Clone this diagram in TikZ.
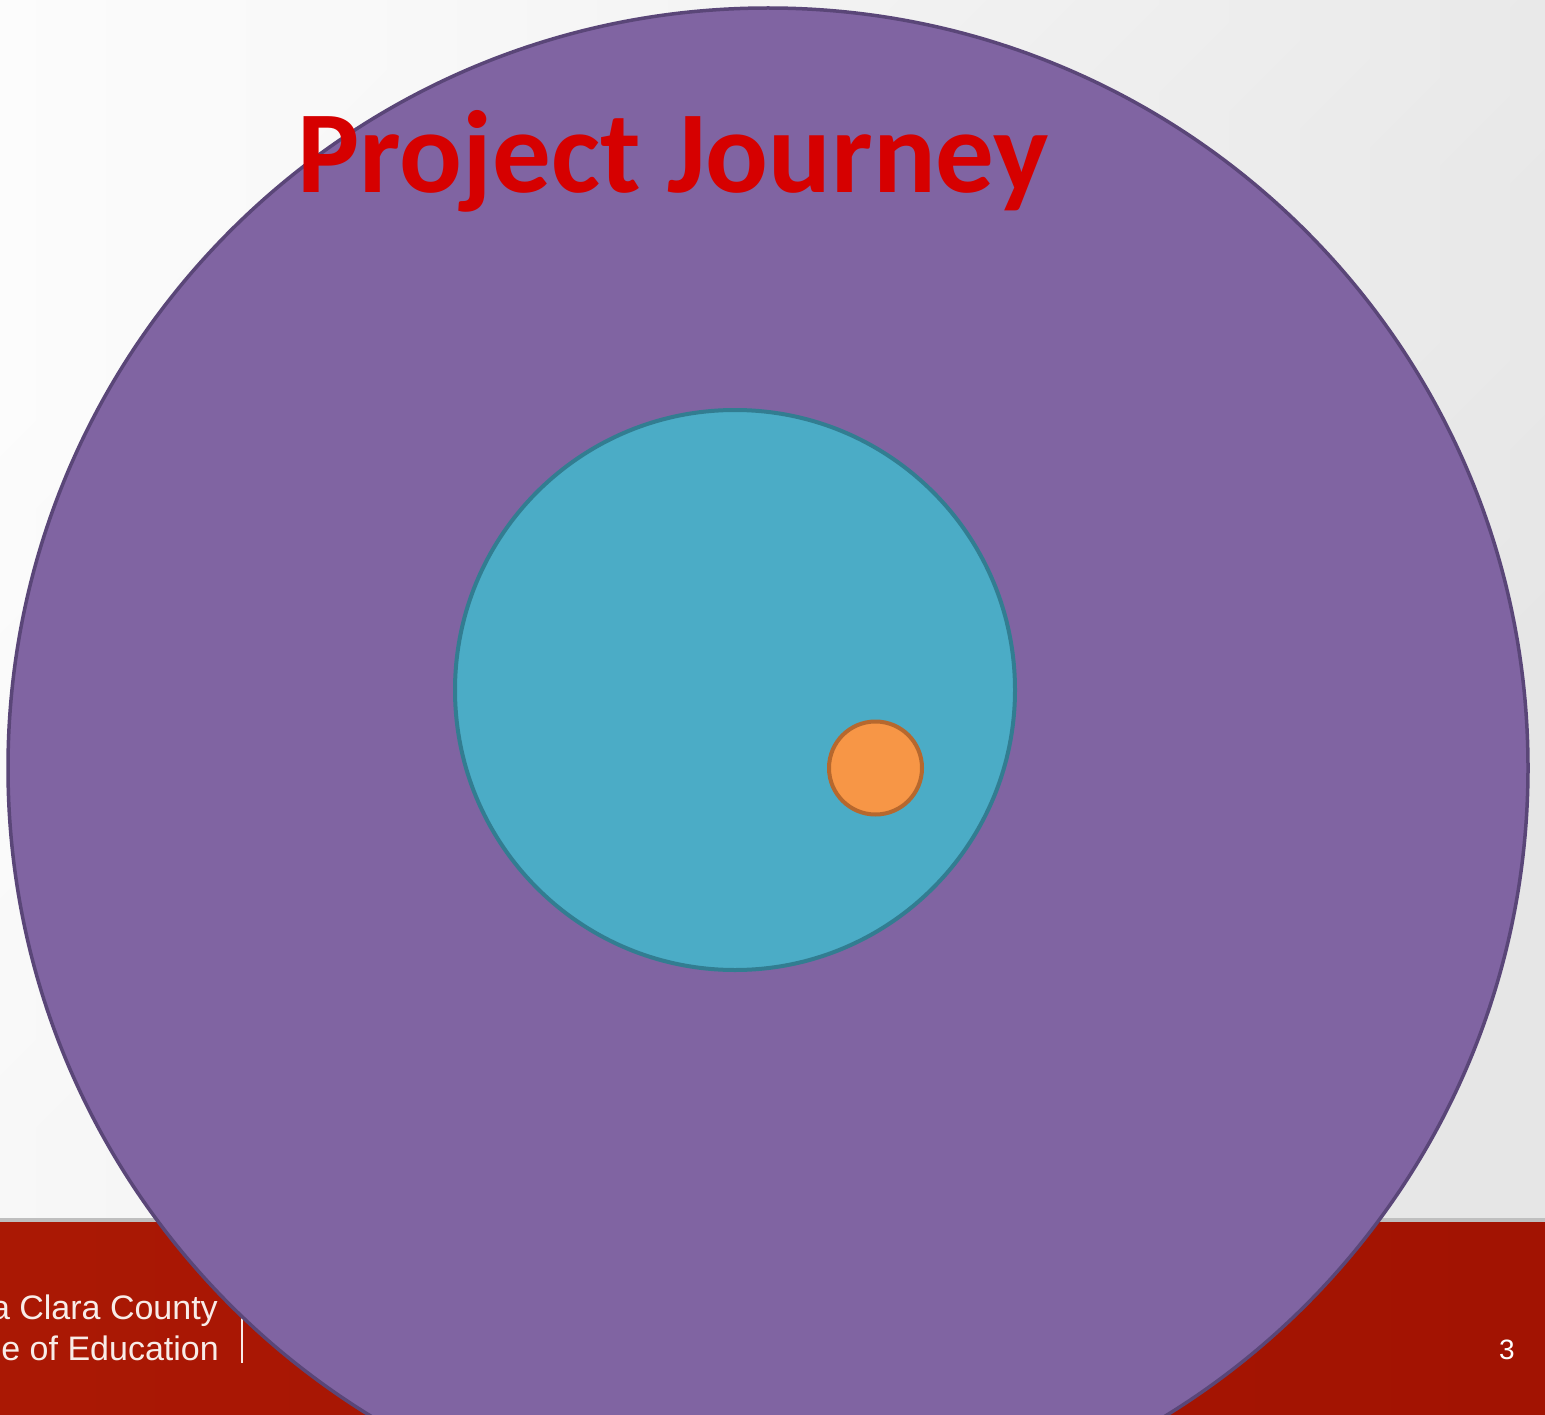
\documentclass[tikz,border=0pt]{standalone}
\usepackage{fontspec}
\setmainfont{Liberation Sans}
\newfontfamily\titlefont{Carlito}
\definecolor{bgA}{RGB}{252,252,252}
\definecolor{bgB}{RGB}{230,230,230}
\definecolor{footred}{RGB}{162,19,2}
\definecolor{footredL}{RGB}{170,24,4}
\definecolor{purpfill}{RGB}{128,100,162}
\definecolor{purpline}{RGB}{90,70,120}
\definecolor{cyanfill}{RGB}{75,172,198}
\definecolor{cyanline}{RGB}{50,125,145}
\definecolor{orfill}{RGB}{247,150,70}
\definecolor{orline}{RGB}{182,104,46}
\definecolor{titlered}{RGB}{214,0,0}
\definecolor{foottext}{RGB}{248,236,232}
\tikzset{
  ring/.style={circle, inner sep=0pt, outer sep=0pt},
  foottxt/.style={inner sep=0pt, text=foottext, font=\fontsize{34}{40}\selectfont, anchor=base east}
}
\begin{document}
\begin{tikzpicture}[x=1pt,y=-1pt]
\useasboundingbox (0,0) rectangle (1545,1415);
\clip (0,0) rectangle (1545,1415);
% background
\shade[top color=bgA, bottom color=bgB, shading angle=45] (0,0) rectangle (1545,1222);
\shade[left color=bgA, right color=bgB, opacity=0.6] (0,0) rectangle (1545,1222);
% footer band
\fill[black!25] (0,1218) rectangle (1545,1222);
\shade[left color=footredL, right color=footred] (0,1222) rectangle (1545,1415);
\node[foottxt] (l1) at (218,1319) {a Clara County};
\node[foottxt] (l2) at (219,1360) {e of Education};
\coordinate (vtop) at (242,1318);
\coordinate (vbot) at (242,1363);
\draw[foottext, line width=1.5pt] (vtop) -- (vbot);
\node[inner sep=0pt, anchor=base, text=white, font=\fontsize{28}{30}\selectfont] (pg) at (1507,1359) {3};
% circles
\node[ring, draw=purpline, fill=purpfill, line width=3.5pt, minimum size=1520pt] (outer) at (768,768) {};
\node[ring, draw=cyanline, fill=cyanfill, line width=4pt, minimum size=560pt] (mid) at (735,690) {};
\node[ring, draw=orline, fill=orfill, line width=4pt, minimum size=93pt] (inner) at (875.5,768) {};
% title
\node[inner sep=0pt, anchor=base west, text=titlered, font=\titlefont\bfseries\fontsize{117}{130}\selectfont] (title) at (297,193) {Project Journey};
\end{tikzpicture}
\end{document}
